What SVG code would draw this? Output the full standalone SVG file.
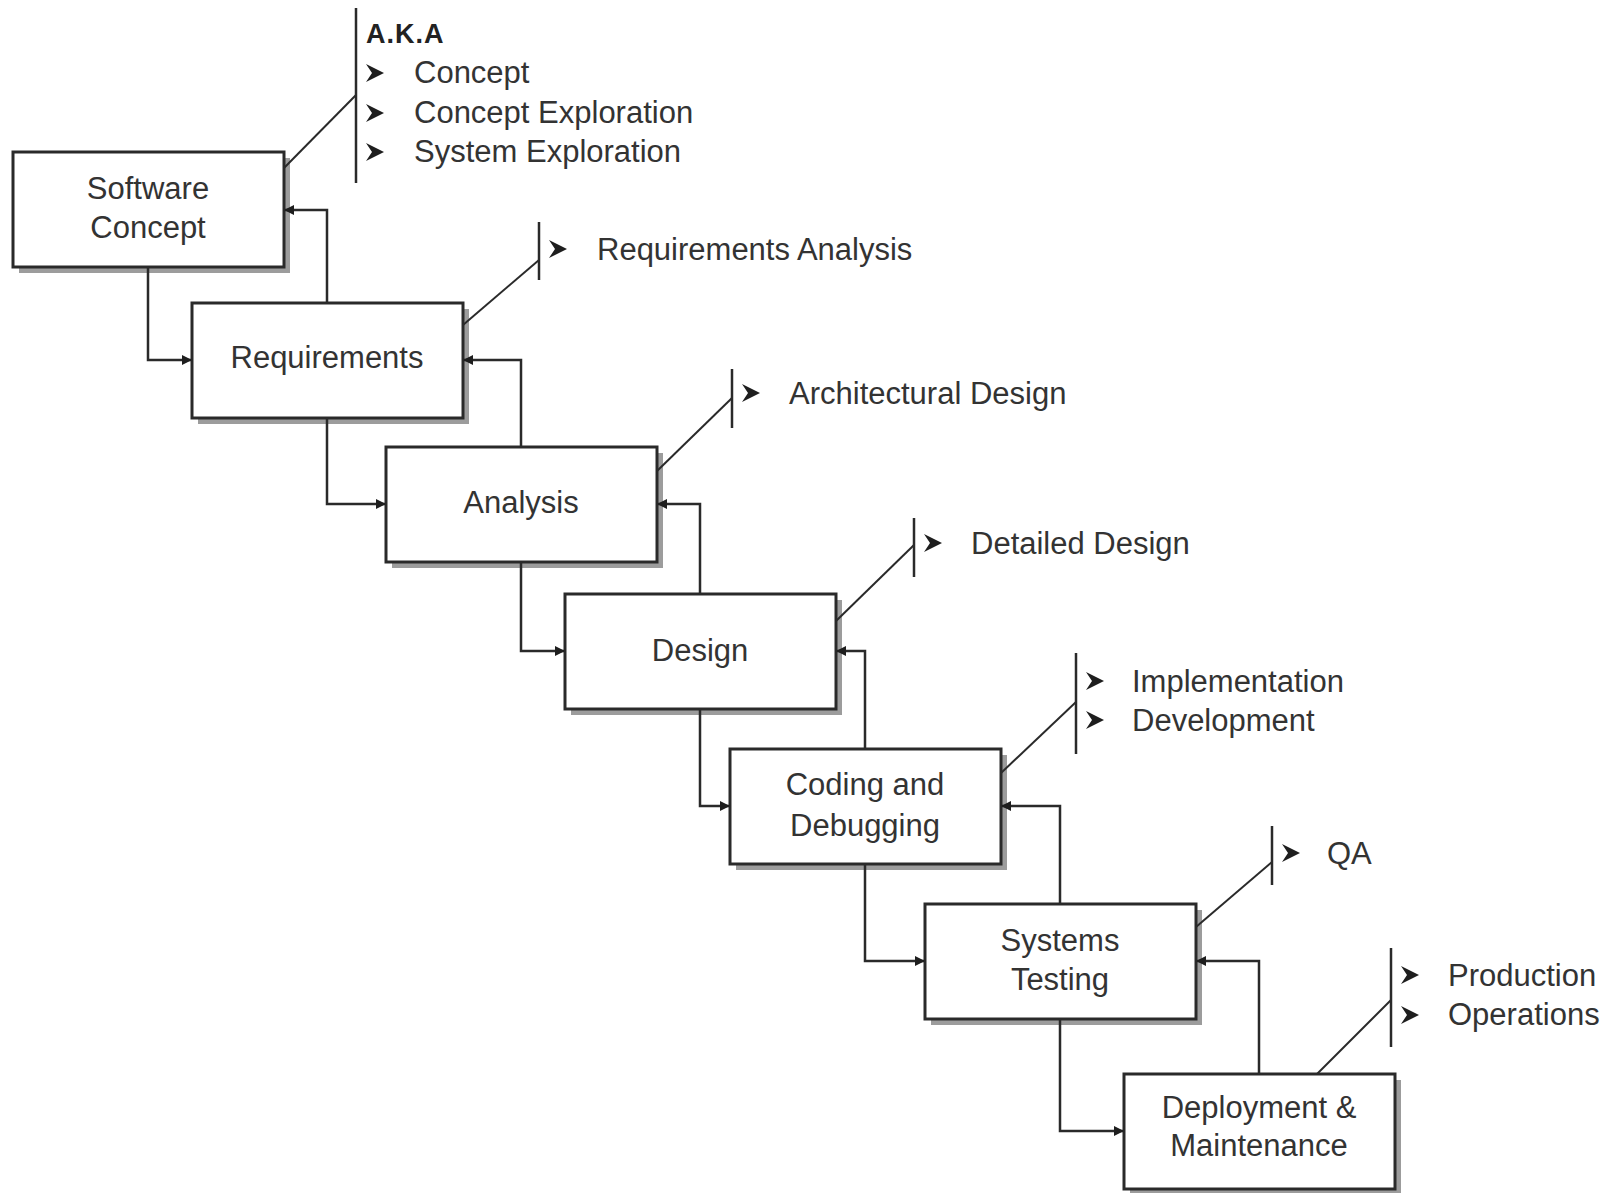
<svg xmlns="http://www.w3.org/2000/svg" width="1615" height="1193" viewBox="0 0 1615 1193">
<style>
  .shadow { fill: #9c9c9c; }
  .box { fill: #ffffff; stroke: #2a2a2a; stroke-width: 3; }
  .lbl { font-family: "Liberation Sans", Arial, sans-serif; font-size: 31px; fill: #333333; text-anchor: middle; }
  .note { font-family: "Liberation Sans", Arial, sans-serif; font-size: 31px; fill: #333333; }
  .aka { font-family: "Liberation Sans", Arial, sans-serif; font-size: 27px; font-weight: bold; fill: #222222; letter-spacing: 1px; }
  .conn { fill: none; stroke: #2a2a2a; stroke-width: 2.5; marker-end: url(#arr); }
  .bar { stroke: #2a2a2a; stroke-width: 2.5; fill: none; }
  .diag { stroke: #2a2a2a; stroke-width: 2; fill: none; }
  .chev { fill: #1e1e1e; }
</style>
<defs>
  <marker id="arr" viewBox="0 0 10 10" refX="10" refY="5" markerWidth="11" markerHeight="10" markerUnits="userSpaceOnUse" orient="auto">
    <path d="M0,0 L10,5 L0,10 Z" fill="#1e1e1e"/>
  </marker>
  <path id="chevron" d="M0,-9 L18,0 L0,9 L6,0 Z"/>
</defs>
<rect width="1615" height="1193" fill="#ffffff"/>

<g id="node-software-concept">
  <rect class="shadow" x="19" y="158" width="271" height="115"/>
  <rect class="box" x="13" y="152" width="271" height="115"/>
  <text class="lbl" x="148" y="199">Software</text>
  <text class="lbl" x="148" y="238">Concept</text>
</g>
<g id="node-requirements">
  <rect class="shadow" x="198" y="309" width="271" height="115"/>
  <rect class="box" x="192" y="303" width="271" height="115"/>
  <text class="lbl" x="327" y="368">Requirements</text>
</g>
<g id="node-analysis">
  <rect class="shadow" x="392" y="453" width="271" height="115"/>
  <rect class="box" x="386" y="447" width="271" height="115"/>
  <text class="lbl" x="521" y="513">Analysis</text>
</g>
<g id="node-design">
  <rect class="shadow" x="571" y="600" width="271" height="115"/>
  <rect class="box" x="565" y="594" width="271" height="115"/>
  <text class="lbl" x="700" y="661">Design</text>
</g>
<g id="node-coding">
  <rect class="shadow" x="736" y="755" width="271" height="115"/>
  <rect class="box" x="730" y="749" width="271" height="115"/>
  <text class="lbl" x="865" y="795">Coding and</text>
  <text class="lbl" x="865" y="836">Debugging</text>
</g>
<g id="node-systems-testing">
  <rect class="shadow" x="931" y="910" width="271" height="115"/>
  <rect class="box" x="925" y="904" width="271" height="115"/>
  <text class="lbl" x="1060" y="951">Systems</text>
  <text class="lbl" x="1060" y="990">Testing</text>
</g>
<g id="node-deployment">
  <rect class="shadow" x="1130" y="1080" width="271" height="115"/>
  <rect class="box" x="1124" y="1074" width="271" height="115"/>
  <text class="lbl" x="1259" y="1118">Deployment &amp;</text>
  <text class="lbl" x="1259" y="1156">Maintenance</text>
</g>

<g id="connectors">
  <path class="conn" d="M148,267 V360 H192"/>
  <path class="conn" d="M327,303 V210 H284"/>
  <path class="conn" d="M327,418 V504 H386"/>
  <path class="conn" d="M521,447 V360 H463"/>
  <path class="conn" d="M521,562 V651 H565"/>
  <path class="conn" d="M700,594 V504 H657"/>
  <path class="conn" d="M700,709 V806 H730"/>
  <path class="conn" d="M865,749 V651 H836"/>
  <path class="conn" d="M865,864 V961 H925"/>
  <path class="conn" d="M1060,904 V806 H1001"/>
  <path class="conn" d="M1060,1019 V1131 H1124"/>
  <path class="conn" d="M1259,1074 V961 H1196"/>
</g>

<g id="note-software-concept">
  <line class="diag" x1="284" y1="168" x2="356" y2="95"/>
  <line class="bar" x1="356" y1="8" x2="356" y2="183"/>
  <text class="aka" x="366" y="43">A.K.A</text>
  <use href="#chevron" class="chev" x="366" y="73"/>
  <use href="#chevron" class="chev" x="366" y="113"/>
  <use href="#chevron" class="chev" x="366" y="152"/>
  <text class="note" x="414" y="83">Concept</text>
  <text class="note" x="414" y="123">Concept Exploration</text>
  <text class="note" x="414" y="162">System Exploration</text>
</g>
<g id="note-requirements">
  <line class="diag" x1="463" y1="325" x2="539" y2="260"/>
  <line class="bar" x1="539" y1="222" x2="539" y2="280"/>
  <use href="#chevron" class="chev" x="549" y="249"/>
  <text class="note" x="597" y="260">Requirements Analysis</text>
</g>
<g id="note-analysis">
  <line class="diag" x1="657" y1="471" x2="732" y2="398"/>
  <line class="bar" x1="732" y1="369" x2="732" y2="428"/>
  <use href="#chevron" class="chev" x="742" y="393"/>
  <text class="note" x="789" y="404">Architectural Design</text>
</g>
<g id="note-design">
  <line class="diag" x1="836" y1="621" x2="914" y2="545"/>
  <line class="bar" x1="914" y1="518" x2="914" y2="577"/>
  <use href="#chevron" class="chev" x="924" y="543"/>
  <text class="note" x="971" y="554">Detailed Design</text>
</g>
<g id="note-coding">
  <line class="diag" x1="1001" y1="773" x2="1076" y2="702"/>
  <line class="bar" x1="1076" y1="653" x2="1076" y2="754"/>
  <use href="#chevron" class="chev" x="1086" y="681"/>
  <use href="#chevron" class="chev" x="1086" y="720"/>
  <text class="note" x="1132" y="692">Implementation</text>
  <text class="note" x="1132" y="731">Development</text>
</g>
<g id="note-systems-testing">
  <line class="diag" x1="1196" y1="927" x2="1272" y2="862"/>
  <line class="bar" x1="1272" y1="826" x2="1272" y2="885"/>
  <use href="#chevron" class="chev" x="1282" y="853"/>
  <text class="note" x="1327" y="864">QA</text>
</g>
<g id="note-deployment">
  <line class="diag" x1="1317" y1="1074" x2="1391" y2="1000"/>
  <line class="bar" x1="1391" y1="948" x2="1391" y2="1047"/>
  <use href="#chevron" class="chev" x="1401" y="975"/>
  <use href="#chevron" class="chev" x="1401" y="1015"/>
  <text class="note" x="1448" y="986">Production</text>
  <text class="note" x="1448" y="1025">Operations</text>
</g>
</svg>
